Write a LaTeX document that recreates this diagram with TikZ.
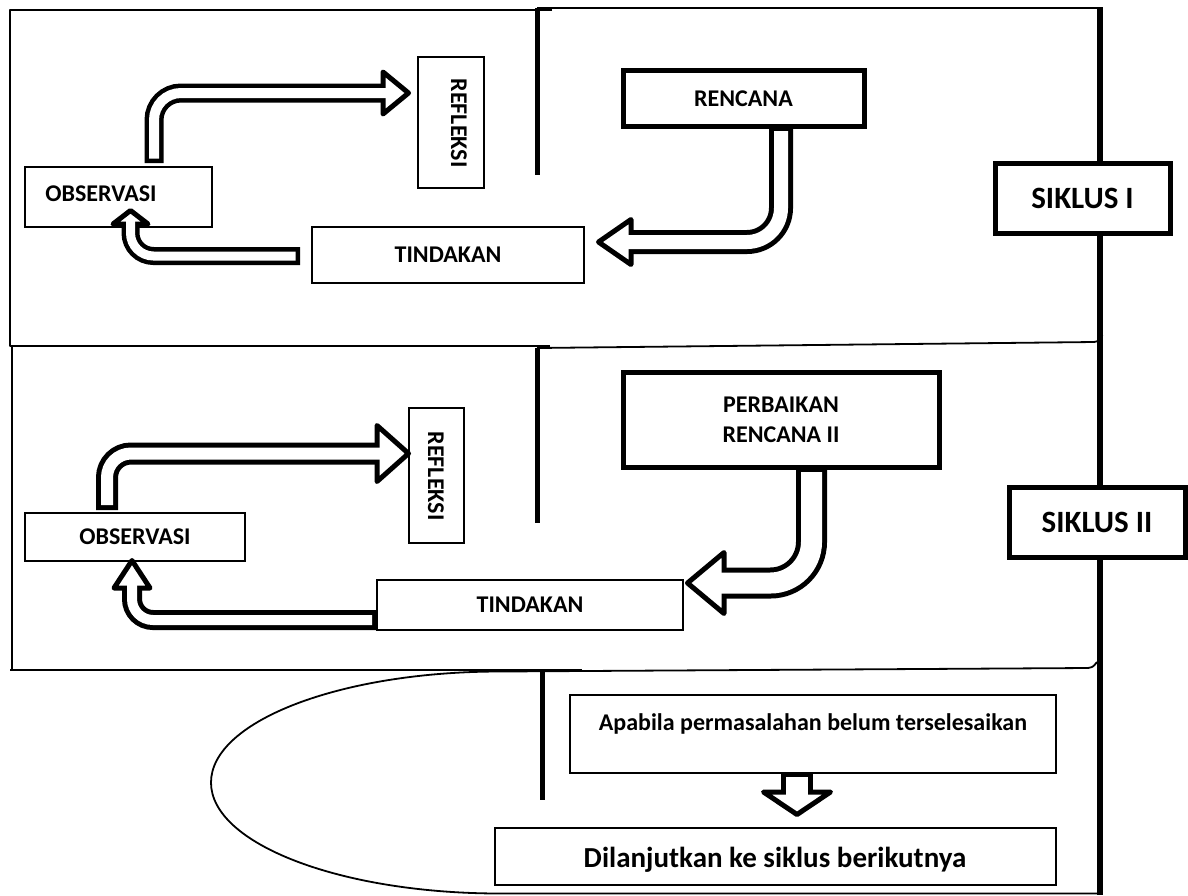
\documentclass[tikz,border=0pt]{standalone}
\usepackage{fontspec}
\setmainfont{Carlito}
\begin{document}
\begin{tikzpicture}[x=1pt,y=-1pt,
  panel/.style={line width=1.8pt, line join=round},
  divider/.style={line width=5pt},
  thinbox/.style={draw, line width=2pt, fill=white, inner sep=0pt, outer sep=0pt},
  thickbox/.style={draw, line width=5pt, fill=white, inner sep=0pt, outer sep=0pt},
  txt/.style={font=\fontsize{24}{30}\selectfont\bfseries, inner sep=0pt, align=center},
  bigtxt/.style={font=\fontsize{31}{37}\selectfont\bfseries, inner sep=0pt},
  dtxt/.style={font=\fontsize{29}{35}\selectfont\bfseries, inner sep=0pt},
  ahead/.style={draw, fill=white, line width=5pt, line join=round},
  ashaft/.style={line cap=butt},
  ahollow/.style={draw=white, line cap=butt},
]
\useasboundingbox (0,0) rectangle (1188,895);

% ---------- panels ----------
\draw[panel] (552,10) -- (10,10) -- (10,346) -- (550,346);
\draw[panel] (537,8) -- (1100,8);
\draw[panel] (537,348) -- (1094,342) .. controls (1101,341) and (1104,336) .. (1101,333);
\draw[panel] (12,347) -- (12,670);
\draw[panel] (10,670) -- (582,670);
\draw[panel] (1097,662) .. controls (1093,667) .. (1088,668) -- (500,671.5)
  arc[start angle=90, end angle=270, x radius=289pt, y radius=111pt] -- (1100,893.5);

% ---------- dividers ----------
\draw[divider] (537,8) -- (537,175);
\draw[divider] (537,348) -- (537,523);
\draw[divider] (542,672) -- (542,800);
\draw[line width=5.5pt] (1100,7) -- (1100,895);

% ---------- siklus I ----------
\node[thinbox, minimum width=187pt, minimum height=60pt] (obs1) at (118.5,197) {};
\node[txt] (obs1t) at (101,193.5) {OBSERVASI};
\node[thinbox, minimum width=66pt, minimum height=131pt] (refl1) at (451,122.5) {};
\node[txt, rotate=-90] (refl1t) at (459,123) {REFLEKSI};
\node[thinbox, minimum width=272pt, minimum height=56pt, txt] (tind1) at (448,255) {TINDAKAN};
\node[thickbox, minimum width=241pt, minimum height=56pt, txt] (ren1) at (743.5,98.5) {RENCANA};
\node[thickbox, minimum width=175pt, minimum height=70pt, bigtxt] (sik1) at (1082.5,198) {SIKLUS I};

% ---------- siklus II ----------
\node[thinbox, minimum width=220pt, minimum height=48pt, txt] (obs2) at (135,537) {OBSERVASI};
\node[thinbox, minimum width=55pt, minimum height=135pt] (refl2) at (436.5,475.5) {};
\node[txt, rotate=-90] (refl2t) at (436,476) {REFLEKSI};
\node[thinbox, minimum width=306pt, minimum height=50pt, txt] (tind2) at (530,605) {TINDAKAN};
\node[thickbox, minimum width=316pt, minimum height=95pt, txt] (perb) at (781,419.5) {PERBAIKAN\\RENCANA II};
\node[thickbox, minimum width=176pt, minimum height=70pt, bigtxt] (sik2) at (1097,522) {SIKLUS II};

% ---------- bottom ----------
\node[thinbox, minimum width=486pt, minimum height=78pt] (apab) at (813,734) {};
\node[txt, anchor=base] (apabt) at (813,730) {Apabila permasalahan belum terselesaikan};
\node[thinbox, minimum width=561pt, minimum height=57pt] (dil) at (775.5,856.5) {};
\node[dtxt, anchor=base] (dilt) at (775,867) {Dilanjutkan ke siklus berikutnya};

% ---------- arrows ----------
% A1 observasi -> refleksi (I)
\coordinate (a1s) at (154,163); \coordinate (a1b) at (383,93);
\draw[ashaft, line width=19pt, rounded corners=27pt] (a1s) |- (a1b);
\draw[ahead] (408.5,93) -- (383,72) -- (383,114) -- cycle;
\draw[ahollow, line width=10pt, rounded corners=27pt] (154,158.5) |- (387,93);

% A2 tindakan -> observasi (I)
\coordinate (a2s) at (300,256); \coordinate (a2b) at (130.5,224);
\draw[ashaft, line width=18pt, rounded corners=23pt] (a2s) -| (a2b);
\draw[ahead] (130.5,210.5) -- (113,224) -- (148,224) -- cycle;
\draw[ahollow, line width=9pt, rounded corners=23pt] (295.5,256) -| (130.5,220);

% A3 rencana -> tindakan (I)
\coordinate (a3s) at (781,126); \coordinate (a3b) at (631,242);
\draw[ashaft, line width=24pt, rounded corners=34pt] (a3s) |- (a3b);
\draw[ahead] (598.5,242) -- (631,219.5) -- (631,264.5) -- cycle;
\draw[ahollow, line width=14pt, rounded corners=34pt] (781,131) |- (627,242);

% A4 observasi -> refleksi (II)
\coordinate (a4s) at (107,510); \coordinate (a4b) at (377,453.5);
\draw[ashaft, line width=22pt, rounded corners=24pt] (a4s) |- (a4b);
\draw[ahead] (408.5,453.5) -- (377,425.5) -- (377,481.5) -- cycle;
\draw[ahollow, line width=12pt, rounded corners=24pt] (107,505) |- (381,453.5);

% A5 tindakan -> observasi (II)
\coordinate (a5s) at (377,620); \coordinate (a5b) at (132,588);
\draw[ashaft, line width=20pt, rounded corners=21pt] (a5s) -| (a5b);
\draw[ahead] (132,560.5) -- (114,588) -- (150,588) -- cycle;
\draw[ahollow, line width=10pt, rounded corners=21pt] (372,620) -| (132,584);

% A6 perbaikan -> tindakan (II)
\coordinate (a6s) at (811.5,467); \coordinate (a6b) at (724,583);
\draw[ashaft, line width=31pt, rounded corners=41pt] (a6s) |- (a6b);
\draw[ahead] (687.5,583) -- (724,552.5) -- (724,613.5) -- cycle;
\draw[ahollow, line width=21pt, rounded corners=41pt] (811.5,472) |- (720,583);

% A7 apabila -> dilanjutkan
\coordinate (a7s) at (797,772); \coordinate (a7b) at (797,792);
\draw[ashaft, line width=32pt] (a7s) -- (a7b);
\draw[ahead] (797,814.5) -- (763.5,792) -- (830.5,792) -- cycle;
\draw[ahollow, line width=22pt] (797,777) -- (797,796);
\end{tikzpicture}
\end{document}
